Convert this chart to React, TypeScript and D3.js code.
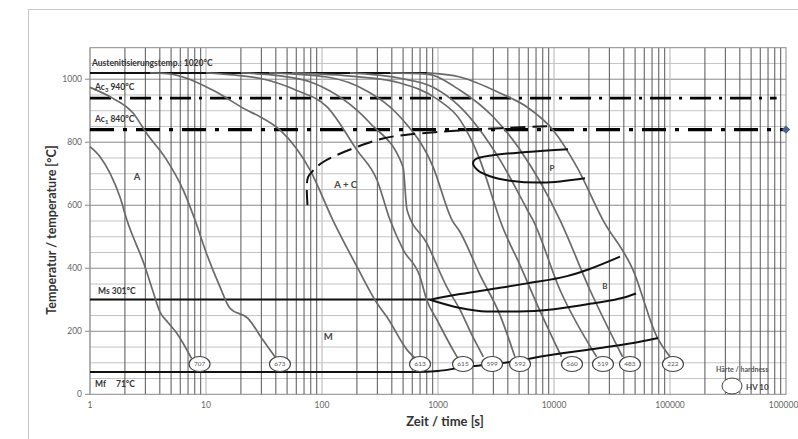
import * as d3 from "d3";

// ZTU-Schaubild (continuous cooling), log time axis
const W = 798;
const H = 439;
const plot = { left: 90, right: 786, top: 47.7, bottom: 394.3 };

const xTicks = [1, 10, 100, 1000, 10000, 100000, 1000000];
const yTicks = [0, 200, 400, 600, 800, 1000];

const austenitTemp = 1020;
const austenitEnd = 804;
const ac3Temp = 940;
const ac1Temp = 840;
const msTemp = 301;
const msEnd = 853;

type Pt = [number, number];

// cooling curves [time s, temperature °C]
const curve707: Pt[] = [[1, 786], [1.22, 754], [1.49, 701], [1.81, 627], [2.08, 553], [2.98, 405], [3.46, 331], [4.0, 262], [4.7, 228], [5.6, 194], [7.5, 114]];
const curve673: Pt[] = [[1, 974], [1.49, 944], [2.36, 892], [3.08, 828], [4.58, 744], [6.37, 648], [8.04, 553], [10.1, 447], [13.2, 341], [16.1, 273], [23, 241], [31, 172], [39.3, 119]];
const curve613: Pt[] = [[3.3, 1020], [4.6, 1018], [11.5, 965], [22.4, 902], [29.2, 881], [43.4, 839], [78.8, 712], [124, 553], [200, 405], [298, 289], [362, 246], [541, 141], [659, 109]];
const curve615: Pt[] = [[10, 1020], [18, 1013], [29, 1003], [60, 965], [110, 913], [200, 775], [298, 680], [386, 553], [502, 458], [700, 373], [800, 299], [980, 236], [1346, 141], [1480, 115]];
const curve599: Pt[] = [[20, 1020], [40, 1012], [84, 988], [259, 861], [499, 722], [541, 585], [800, 480], [1190, 341], [1549, 268], [1950, 190], [2460, 119]];
const curve592: Pt[] = [[35, 1020], [110, 1007], [250, 960], [470, 881], [906, 722], [1321, 553], [1549, 515], [2300, 379], [3420, 252], [4600, 119]];
const curve560: Pt[] = [[55, 1020], [200, 1008], [470, 988], [1000, 935], [1549, 871], [2300, 744], [3100, 600], [3420, 553], [5094, 410], [7500, 268], [11600, 119]];
const curve519: Pt[] = [[174, 1020], [470, 1003], [900, 975], [1549, 912], [3420, 744], [5900, 585], [6590, 553], [11270, 331], [23300, 119]];
const curve483: Pt[] = [[386, 1020], [800, 1016], [1549, 965], [3000, 880], [5094, 776], [11270, 553], [20420, 331], [39000, 119]];
const curve222: Pt[] = [[804, 1020], [1549, 1007], [3423, 956], [5850, 912], [9800, 839], [15780, 721], [26440, 553], [47970, 395], [77200, 182], [100000, 119]];

const coolingCurves = [curve707, curve673, curve613, curve615, curve599, curve592, curve560, curve519, curve483, curve222];

// hardness HV10 at end of each curve
const hardnessValues = ["707", "673", "613", "615", "599", "592", "560", "519", "483", "222"];
const hardnessTimes = [8.8, 43.4, 700, 1643, 2924, 5094, 14300, 26440, 45160, 106000];
const hardnessTemp = 96;

// transformation lines
const pearliteLine: Pt[] = [[13200, 778], [5850, 769], [2980, 759], [2100, 746], [2004, 733], [2200, 711], [2800, 692], [4176, 678], [8035, 672], [18500, 686]];
const bainiteUpper: Pt[] = [[853, 300], [1549, 318], [3423, 338], [5850, 352], [12950, 375], [20000, 397], [37070, 437]];
const bainiteLower: Pt[] = [[853, 300], [1549, 274], [2600, 263], [5000, 263], [10000, 270], [22000, 289], [40000, 307], [51000, 320]];
const mfLine: Pt[] = [[1, 71], [650, 71], [1000, 74], [1549, 84], [2800, 95], [5094, 107], [6590, 115], [24940, 147], [55000, 167], [78800, 179]];
const carbideStart: Pt[] = [[75, 600], [74, 660], [76, 690], [85, 712], [100, 735], [130, 757], [200, 785], [335, 812], [540, 824], [1780, 839], [8700, 851]];

const regionLabels = [
  { text: "A", t: 2.54, T: 690 },
  { text: "A + C", t: 160, T: 665 },
  { text: "M", t: 113, T: 182 },
  { text: "P", t: 9600, T: 718 },
  { text: "B", t: 27500, T: 345 },
];

const font = "Lato, 'Open Sans', sans-serif";

export default function App() {
  const x = d3.scaleLog().domain([1, 1e6]).range([plot.left, plot.right]);
  const y = d3.scaleLinear().domain([0, 1100]).range([plot.bottom, plot.top]);

  const smooth = d3.line<Pt>().x((d) => x(d[0])).y((d) => y(d[1])).curve(d3.curveMonotoneX);
  const round = d3.line<Pt>().x((d) => x(d[0])).y((d) => y(d[1])).curve(d3.curveCatmullRom.alpha(0.5));

  const vGrid: { v: number; major: boolean }[] = [];
  for (let d = 0; d < 6; d++) {
    for (let k = 1; k < 10; k++) vGrid.push({ v: k * 10 ** d, major: k === 1 });
  }
  const hGrid = d3.range(50, 1100, 50);

  return (
    <svg width={W} height={H} style={{ position: "absolute", left: 0, top: 0, background: "#fff" }} fontFamily={font}>
      <rect x={28.5} y={9.5} width={W} height={H} fill="none" stroke="#c8c8c8" />

      {/* grid */}
      {hGrid.map((v) => (
        <line key={"h" + v} x1={plot.left} x2={plot.right} y1={y(v)} y2={y(v)} stroke={v % 200 === 0 ? "#8a8a8a" : "#c4c4c4"} strokeWidth={1} />
      ))}
      {vGrid.map(({ v, major }) => (
        <line key={"v" + v} x1={x(v)} x2={x(v)} y1={plot.top} y2={plot.bottom} stroke={major ? "#c0c0c0" : "#555"} strokeWidth={major ? 1.2 : 1} />
      ))}
      <rect x={plot.left} y={plot.top} width={plot.right - plot.left} height={plot.bottom - plot.top} fill="none" stroke="#8a8a8a" />

      {/* y ticks */}
      {yTicks.map((v) => (
        <g key={"yt" + v}>
          <line x1={plot.left - 5} x2={plot.left} y1={y(v)} y2={y(v)} stroke="#8a8a8a" />
          <text x={plot.left - 8} y={y(v) + 3} textAnchor="end" fontSize={8.5} fill="#666">{v}</text>
        </g>
      ))}
      {xTicks.map((v) => (
        <text key={"xt" + v} x={x(v)} y={408} textAnchor="middle" fontSize={8.5} fill="#666">{v}</text>
      ))}

      {/* reference lines */}
      <line x1={x(1)} x2={x(austenitEnd)} y1={y(austenitTemp)} y2={y(austenitTemp)} stroke="#111" strokeWidth={2} />
      <line x1={x(1)} x2={x(8.3e5)} y1={y(ac3Temp)} y2={y(ac3Temp)} stroke="#000" strokeWidth={2.6} strokeDasharray="21,8,3,8" />
      <line x1={x(1)} x2={x(1e6)} y1={y(ac1Temp)} y2={y(ac1Temp)} stroke="#000" strokeWidth={3.4} strokeDasharray="24,9,4,9" />
      <rect x={x(1e6) - 3} y={y(ac1Temp) - 3} width={6} height={6} fill="#4a6590" transform={`rotate(45 ${x(1e6)} ${y(ac1Temp)})`} />
      <line x1={x(1)} x2={x(msEnd)} y1={y(msTemp)} y2={y(msTemp)} stroke="#111" strokeWidth={2} />

      {/* cooling curves */}
      {coolingCurves.map((c, i) => (
        <path key={"c" + i} d={smooth(c) ?? ""} fill="none" stroke="#6a6a6a" strokeWidth={1.7} />
      ))}

      {/* transformation boundaries */}
      <path d={round(pearliteLine) ?? ""} fill="none" stroke="#111" strokeWidth={2} />
      <path d={smooth(bainiteUpper) ?? ""} fill="none" stroke="#111" strokeWidth={2} />
      <path d={smooth(bainiteLower) ?? ""} fill="none" stroke="#111" strokeWidth={2} />
      <path d={smooth(mfLine) ?? ""} fill="none" stroke="#111" strokeWidth={2} />
      <path d={round(carbideStart) ?? ""} fill="none" stroke="#111" strokeWidth={2} strokeDasharray="15,7" />

      {/* line labels */}
      <g fontWeight="bold" fill="#333" fontSize={8.5}>
        <text x={x(1) + 2} y={y(austenitTemp) - 7}>Austenitisierungstemp.: 1020°C</text>
        <text x={x(1) + 5} y={y(ac3Temp) - 8}>Ac<tspan fontSize={6} dy={2}>3</tspan><tspan dy={-2}> 940°C</tspan></text>
        <text x={x(1) + 5} y={y(ac1Temp) - 8}>Ac<tspan fontSize={6} dy={2}>1</tspan><tspan dy={-2}> 840°C</tspan></text>
        <text x={x(1) + 8} y={y(msTemp) - 5}>Ms 301°C</text>
        <text x={x(1) + 5} y={y(0) - 7}>Mf<tspan dx={10}>71°C</tspan></text>
      </g>

      {/* phase regions */}
      {regionLabels.map((r) => (
        <text key={r.text} x={x(r.t)} y={y(r.T) + 3} textAnchor="middle" fontSize={r.text === "P" || r.text === "B" ? 8 : 9.5} fontWeight="bold" fill="#444">{r.text}</text>
      ))}

      {/* hardness */}
      {hardnessValues.map((hv, i) => (
        <g key={"hv" + i}>
          <ellipse cx={x(hardnessTimes[i])} cy={y(hardnessTemp)} rx={10.5} ry={7.5} fill="#fff" stroke="#444" strokeWidth={1.1} />
          <text x={x(hardnessTimes[i])} y={y(hardnessTemp) + 2.3} textAnchor="middle" fontSize={6.5} fill="#555">{hv}</text>
        </g>
      ))}

      {/* legend */}
      <text x={716} y={372} fontSize={7} fontWeight="bold" fill="#555">Härte / hardness</text>
      <ellipse cx={732} cy={386} rx={10} ry={8} fill="#fff" stroke="#444" strokeWidth={1} />
      <text x={746} y={390} fontSize={8} fontWeight="bold" fill="#444">HV 10</text>

      {/* axis titles */}
      <text x={445} y={426} textAnchor="middle" fontSize={13} fontWeight="bold" fill="#333">Zeit / time [s]</text>
      <text transform="translate(56,230) rotate(-90)" textAnchor="middle" fontSize={12.5} fontWeight="bold" fill="#333">Temperatur / temperature [°C]</text>
    </svg>
  );
}
